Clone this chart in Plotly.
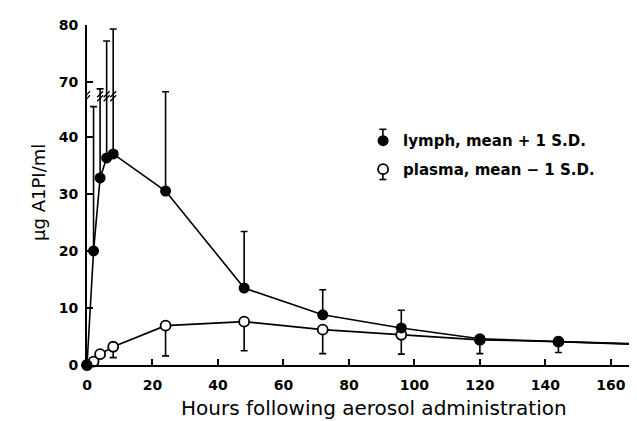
import plotly.graph_objects as go

# ---- data ----
hours_lymph = [0, 2, 4, 6, 8, 24, 48, 72, 96, 120, 144, 168]
lymph_mean = [0, 20, 32.8, 36.3, 37.0, 30.5, 13.5, 8.8, 6.5, 4.6, 4.1, 3.7]
lymph_top = [0, 45.3, 68.8, 77.2, 79.3, 47.9, 23.4, 13.2, 9.6, 4.6, 4.1, 3.7]  # mean + 1 SD

hours_plasma = [0, 2, 4, 8, 24, 48, 72, 96, 120, 144, 168]
plasma_mean = [0, 0.6, 1.9, 3.2, 6.9, 7.6, 6.2, 5.3, 4.4, 4.1, 3.6]
plasma_bottom = [0, 0.6, 1.9, 1.3, 1.6, 2.5, 2.0, 1.9, 2.0, 2.2, 3.6]  # mean - 1 SD

y_tick_values = [0, 10, 20, 30, 40, 70, 80]
x_tick_values = [0, 20, 40, 60, 80, 100, 120, 140, 160]

# ---- broken y axis: values of the upper segment are shifted down ----
GAP_SHIFT = 20.4      # 70 sits where 49.6 would be on the lower scale
GAP_THRESHOLD = 60    # values above this belong to the upper segment
BREAK_AT = 47.1       # axis position of the break marks


def axis_y(v):
    return v - GAP_SHIFT if v > GAP_THRESHOLD else v


FONT = "DejaVu Sans"
# the page body has an 8px margin; size the figure so the plot lands where
# the reference has it inside the 637x421 window
PAGE_OFFSET = 8
FIG_W, FIG_H = 637 - PAGE_OFFSET, 421 - PAGE_OFFSET

lymph_plus = [axis_y(t) - m for t, m in zip(lymph_top, lymph_mean)]
plasma_minus = [m - b for m, b in zip(plasma_mean, plasma_bottom)]

fig = go.Figure()

fig.add_trace(go.Scatter(
    x=hours_plasma, y=plasma_mean, mode="lines+markers",
    line=dict(color="black", width=1.6),
    marker=dict(symbol="circle", size=10, color="white",
                line=dict(color="black", width=1.8)),
    error_y=dict(type="data", symmetric=False,
                 array=[0] * len(plasma_mean), arrayminus=plasma_minus,
                 color="black", thickness=1.6, width=3.5),
    showlegend=False, cliponaxis=False,
))
fig.add_trace(go.Scatter(
    x=hours_lymph, y=lymph_mean, mode="lines+markers",
    line=dict(color="black", width=1.6),
    marker=dict(symbol="circle", size=11, color="black"),
    error_y=dict(type="data", symmetric=False,
                 array=lymph_plus, arrayminus=[0] * len(lymph_mean),
                 color="black", thickness=1.6, width=3.5),
    showlegend=False, cliponaxis=False,
))

# legend entries
fig.add_trace(go.Scatter(x=[None], y=[None], mode="markers",
                         marker=dict(symbol="circle", size=11, color="black"),
                         name="lymph, mean + 1 S.D.", legendgroup="a"))
fig.add_trace(go.Scatter(x=[None], y=[None], mode="markers",
                         marker=dict(symbol="circle", size=10, color="white",
                                     line=dict(color="black", width=1.8)),
                         name="plasma, mean \u2212 1 S.D.", legendgroup="b"))

# break marks on the axis and on every error bar that crosses the break
break_xs = [0] + [h for h, t in zip(hours_lymph, lymph_top) if t > GAP_THRESHOLD]
shapes = []
for bx in break_xs:
    for dy in (-2, 2):
        shapes.append(dict(type="line", xref="x", yref="y",
                           xsizemode="pixel", ysizemode="pixel",
                           xanchor=bx, yanchor=BREAK_AT,
                           x0=-3, x1=3, y0=dy - 3, y1=dy + 3,
                           line=dict(color="black", width=1.3)))

# small error-bar glyphs on the legend symbols
LEG_X = 0.538
for yc, up in ((0.655, True), (0.572, False)):
    sgn = 1 if up else -1
    ln = 13 if up else 9
    shapes.append(dict(type="line", xref="paper", yref="paper",
                       xsizemode="pixel", ysizemode="pixel",
                       xanchor=LEG_X, yanchor=yc,
                       x0=0, x1=0, y0=0, y1=sgn * ln,
                       line=dict(color="black", width=1.6)))
    shapes.append(dict(type="line", xref="paper", yref="paper",
                       xsizemode="pixel", ysizemode="pixel",
                       xanchor=LEG_X, yanchor=yc,
                       x0=-3.5, x1=3.5, y0=sgn * ln, y1=sgn * ln,
                       line=dict(color="black", width=1.6)))

y_axis_positions = [axis_y(v) for v in y_tick_values]

fig.update_layout(
    width=FIG_W, height=FIG_H,
    margin=dict(l=87 - PAGE_OFFSET, r=0, t=25 - PAGE_OFFSET, b=56),
    paper_bgcolor="white", plot_bgcolor="white",
    font=dict(family=FONT, color="black", size=14),
    shapes=shapes,
    legend=dict(x=0.502, y=0.618, xanchor="left", yanchor="middle",
                font=dict(family=FONT, size=15, color="black", weight="bold"),
                tracegroupgap=6, bgcolor="rgba(0,0,0,0)"),
    xaxis=dict(range=[0, 168], showline=True, linecolor="black", linewidth=2,
               tickvals=x_tick_values, ticks="", showgrid=False, zeroline=False,
               ticklabelstandoff=6,
               tickfont=dict(family=FONT, size=14, weight="bold"),
               minor=dict(tickvals=x_tick_values[1:], ticks="inside",
                          ticklen=6, tickwidth=1.6, tickcolor="black",
                          showgrid=False)),
    yaxis=dict(range=[0, axis_y(80)], showline=True, linecolor="black",
               linewidth=2, tickvals=y_axis_positions,
               ticktext=[str(v) for v in y_tick_values], ticks="",
               showgrid=False, zeroline=False, ticklabelstandoff=4,
               tickfont=dict(family=FONT, size=14, weight="bold"),
               minor=dict(tickvals=y_axis_positions[1:-1], ticks="inside",
                          ticklen=6, tickwidth=1.6, tickcolor="black",
                          showgrid=False)),
    annotations=[
        dict(text="Hours following aerosol administration", xref="paper",
             yref="paper", x=0.522, y=-0.127, xanchor="center",
             yanchor="middle", showarrow=False,
             font=dict(family=FONT, size=20, color="black")),
        dict(text="\u03bcg A1PI/ml", xref="paper", yref="paper",
             x=-0.088, y=0.508, xanchor="center", yanchor="middle",
             textangle=-90, showarrow=False,
             font=dict(family=FONT, size=18, color="black")),
    ],
)

fig.write_html("out.html")
